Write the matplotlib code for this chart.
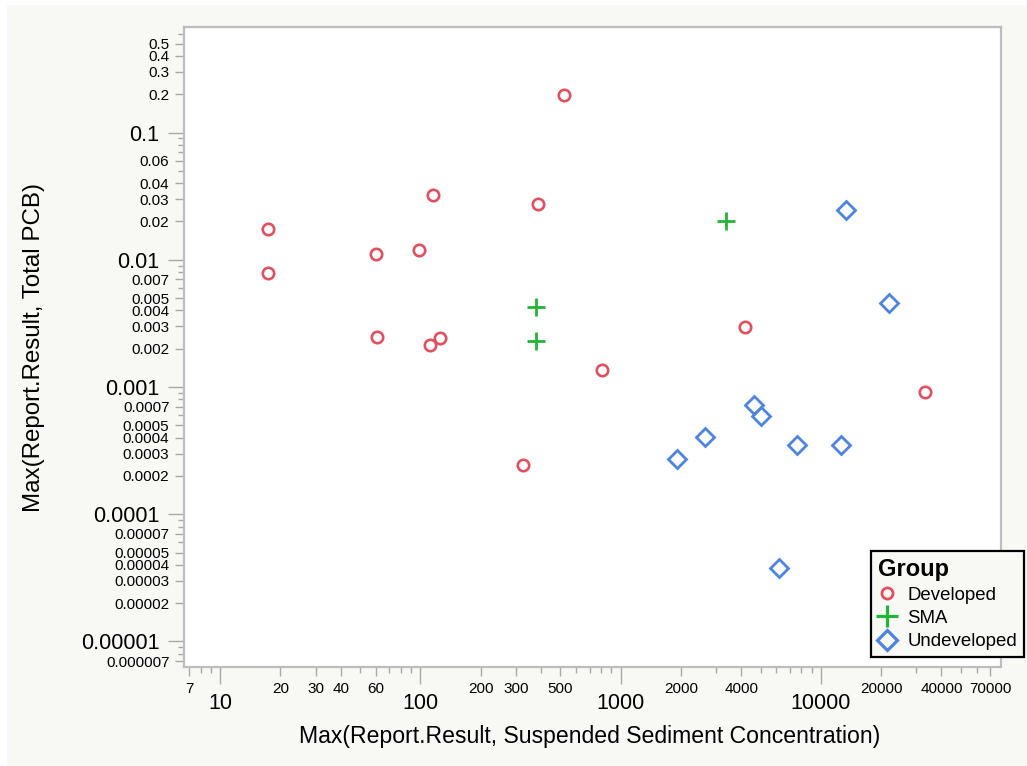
import matplotlib
matplotlib.use('Agg')
import matplotlib.pyplot as plt
from matplotlib.ticker import FixedLocator, FixedFormatter, NullFormatter
from matplotlib.patches import Rectangle
from matplotlib.lines import Line2D

# ---------------- data ----------------
dev_x = [519, 17.4, 17.4, 60.3, 98.9, 116, 389, 61, 112, 126, 804, 324, 4170, 33100]
dev_y = [0.197, 0.0175, 0.0079, 0.0111, 0.0119, 0.0323, 0.0274, 0.00247, 0.00214,
         0.00243, 0.00136, 0.000244, 0.00296, 0.000916]
sma_x = [3350, 376, 376]
sma_y = [0.0202, 0.00428, 0.0023]
und_x = [1911, 2630, 4624, 5020, 7640, 12540, 6180, 13340, 21900]
und_y = [0.000272, 0.000404, 0.000723, 0.000596, 0.000351, 0.000351, 3.77e-5,
         0.0246, 0.00457]

groups = ['Developed', 'SMA', 'Undeveloped']

x_major = [10, 100, 1000, 10000]
x_major_labels = ['10', '100', '1000', '10000']
x_minor_lab = [7, 20, 30, 40, 60, 200, 300, 500, 2000, 4000, 20000, 40000, 70000]
x_minor_lab_labels = ['7', '20', '30', '40', '60', '200', '300', '500', '2000',
                      '4000', '20000', '40000', '70000']

y_major = [0.1, 0.01, 0.001, 0.0001, 0.00001]
y_major_labels = ['0.1', '0.01', '0.001', '0.0001', '0.00001']
y_minor_lab = [0.5, 0.4, 0.3, 0.2, 0.06, 0.04, 0.03, 0.02,
               0.007, 0.005, 0.004, 0.003, 0.002,
               0.0007, 0.0005, 0.0004, 0.0003, 0.0002,
               0.00007, 0.00005, 0.00004, 0.00003, 0.00002, 0.000007]
y_minor_lab_labels = ['0.5', '0.4', '0.3', '0.2', '0.06', '0.04', '0.03', '0.02',
                      '0.007', '0.005', '0.004', '0.003', '0.002',
                      '0.0007', '0.0005', '0.0004', '0.0003', '0.0002',
                      '0.00007', '0.00005', '0.00004', '0.00003', '0.00002', '0.000007']

xlim = (6.6, 79400)
ylim = (6.3e-6, 0.675)

# ---------------- style ----------------
plt.rcParams['font.family'] = ['Liberation Sans', 'DejaVu Sans']
RED = '#e0505f'
GREEN = '#22b536'
BLUE = '#4d84e2'
GREY = '#a8a8a8'
BG = '#f8f8f5'

W, H = 1027, 766
fig = plt.figure(figsize=(W / 100, H / 100), dpi=100, facecolor='white')
fig.patches.append(Rectangle((7 / W, 0), 1 - 7 / W, 1 - 5 / H, transform=fig.transFigure,
                             facecolor=BG, edgecolor='none', zorder=-10))

ax = fig.add_axes([184 / W, 1 - 667 / H, (1001 - 184) / W, (667 - 27) / H])
ax.set_facecolor('white')
ax.set_xscale('log')
ax.set_yscale('log')
ax.set_xlim(*xlim)
ax.set_ylim(*ylim)

ax.plot(dev_x, dev_y, linestyle='none', marker='o', markersize=8.2, markerfacecolor='none',
        markeredgecolor=RED, markeredgewidth=1.9, label=groups[0], zorder=3)
ax.plot(sma_x, sma_y, linestyle='none', marker='+', markersize=13, markeredgecolor=GREEN,
        markeredgewidth=2.0, label=groups[1], zorder=3)
ax.plot(und_x, und_y, linestyle='none', marker='D', markersize=9.0, markerfacecolor='none',
        markeredgecolor=BLUE, markeredgewidth=2.0, label=groups[2], zorder=3)

for s in ax.spines.values():
    s.set_color('#bdbdbd')
    s.set_linewidth(1.6)


def setup_axis(axis, major, major_labels, minor_lab, minor_lab_labels, lo, hi, is_x):
    items = [(v, l, 'M') for v, l in zip(major, major_labels)] + \
            [(v, l, 'm') for v, l in zip(minor_lab, minor_lab_labels)]
    items.sort(key=lambda t: t[0])
    locs = [t[0] for t in items]
    axis.set_major_locator(FixedLocator(locs))
    axis.set_major_formatter(FixedFormatter([t[1] for t in items]))
    # unlabeled minor ticks: every 2..9 in each decade not already labeled
    minors = []
    d = 1e-7
    while d < 1e6:
        for k in range(2, 10):
            v = k * d
            if lo <= v <= hi and not any(abs(v - L) / L < 1e-6 for L in locs):
                minors.append(v)
        d *= 10
    axis.set_minor_locator(FixedLocator(minors))
    axis.set_minor_formatter(NullFormatter())
    axis.set_tick_params(which='minor', length=4.5, width=1.0, color=GREY, direction='out')
    axis.set_tick_params(which='major', width=1.0, color=GREY, direction='out')
    ticks = axis.get_major_ticks(len(locs))
    for tk, (v, l, kind) in zip(ticks, items):
        if kind == 'M':
            if is_x:
                tk._apply_params(size=12, pad=7, labelsize=15.5)
            else:
                tk._apply_params(size=11.5, pad=6.3, labelsize=15.5)
        else:
            if is_x:
                tk._apply_params(size=6.5, pad=4.2, labelsize=11)
            else:
                tk._apply_params(size=6.5, pad=4.0, labelsize=11)


setup_axis(ax.xaxis, x_major, x_major_labels, x_minor_lab, x_minor_lab_labels,
           xlim[0], xlim[1], True)
setup_axis(ax.yaxis, y_major, y_major_labels, y_minor_lab, y_minor_lab_labels,
           ylim[0], ylim[1], False)

ax.set_xlabel('Max(Report.Result, Suspended Sediment Concentration)', fontsize=16.6)
ax.set_ylabel('Max(Report.Result, Total PCB)', fontsize=17.4)
ax.xaxis.set_label_coords((590 - 184) / 817, (667 - 736) / 640)
ax.xaxis.label.set_verticalalignment('center')
ax.yaxis.set_label_coords((34 - 184) / 817, (667 - 348) / 640)
ax.yaxis.label.set_verticalalignment('center')

handles = [
    Line2D([], [], linestyle='none', marker='o', markersize=8.0, markerfacecolor='none',
           markeredgecolor=RED, markeredgewidth=2.0),
    Line2D([], [], linestyle='none', marker='+', markersize=15.5, markeredgecolor=GREEN,
           markeredgewidth=2.3),
    Line2D([], [], linestyle='none', marker='D', markersize=10.5, markerfacecolor='none',
           markeredgecolor=BLUE, markeredgewidth=2.3),
]
leg = fig.legend(handles, groups, title='Group', loc='upper left',
                 bbox_to_anchor=(871 / W, 1 - 551 / H), fontsize=13.4,
                 title_fontproperties={'weight': 'bold', 'size': 17},
                 alignment='left', frameon=True, fancybox=False, framealpha=1,
                 facecolor=BG, edgecolor='black', borderpad=0.35, labelspacing=0.33,
                 handlelength=1.0, handletextpad=0.6, borderaxespad=0)
leg.get_frame().set_linewidth(1.6)

fig.savefig('out.png', dpi=100, facecolor=fig.get_facecolor())
